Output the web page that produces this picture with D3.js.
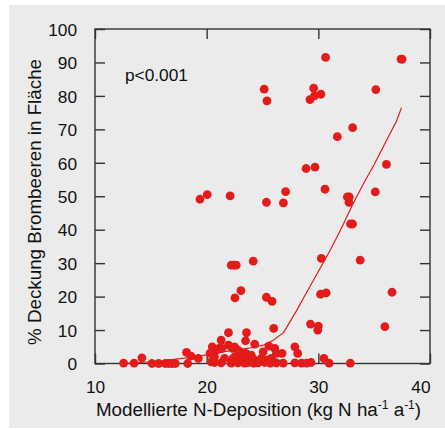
<!DOCTYPE html>
<html><head><meta charset="utf-8">
<script src="https://cdn.jsdelivr.net/npm/d3@7"></script>
<style>
html,body{margin:0;padding:0;background:#fff;}
text{font-family:"Liberation Sans",Arial,sans-serif;fill:#111;}
</style></head>
<body><svg id="c" width="445" height="430"></svg>
<script>
// Data
const depX = [19.4,20.05,22.1,25.15,25.4,25.35,26.87,27.07,28.9,29.7,29.25,29.58,29.65,30.23,30.65,30.6,31.7,33.07,32.6,32.77,32.74,35.15,35.1,36.1,37.4,37.5,
  32.88,33.07,33.75,36.6,35.96,30.27,30.2,30.7,29.3,30.0,29.95,30.5,30.96,32.86,
  22.2,22.45,22.65,24.17,23.07,22.53,25.35,25.86,26.0,21.95,23.57,
  23.48,21.3,21.95,24.3,25.57,25.06,26.1,26.25,26.75,27.9,28.15,27.9,28.5,28.95,29.35,
  18.2,18.6,19.25,14.2,12.56,13.5,15.1,15.7,16.3,16.6,16.9,17.2,18.3,
  20.5,20.3,20.8,21.1,21.35,22.5,22.8,22.3,
  20.4,20.7,21.3,22.2,22.8,23.4,23.7,24.2,24.6,25.2,25.7,26.25,26.85,
  20.7,21.6,22.5,22.9,23.3,23.7,24.2,24.9,25.35,25.8,23.0,23.5,24.0,22.3];
const coverY = [49.1,50.5,50.1,82.0,78.5,48.2,48.0,51.4,58.3,58.7,78.9,82.3,80.0,80.5,91.5,52.1,67.8,70.5,49.8,49.8,48.2,81.9,51.3,59.5,91.0,91.0,
  41.7,41.7,30.9,21.3,11.0,31.4,20.7,21.1,11.8,11.2,10.0,1.5,0.1,0.1,
  29.4,29.4,29.4,30.6,21.8,19.6,19.8,18.6,10.5,9.2,9.2,
  6.8,7.0,5.5,5.8,5.2,3.5,4.5,3.0,3.0,5.0,3.0,0.2,0.1,0.1,0.3,
  3.3,2.2,1.5,1.7,0.1,0.1,0,0,0,0,0,0,0,
  5.0,3.0,3.8,4.5,4.5,5.0,4.0,4.5,
  0.5,0.3,0.2,0.1,0.2,0.1,0.3,0.1,0.2,0.3,0.1,0.2,0.1,
  2.0,1.5,2.0,1.5,2.5,1.8,1.2,1.5,1.0,1.5,3.5,3.0,2.5,1.3];
const fitX = [12.56,14,16,18,20,22,24,25,26,26.9,28,29,30,31,32,33,34,35,36,37,37.45];
const fitY = [0,0.3,0.8,1.6,2.6,3.8,4.7,5.4,7.0,9.3,15.5,21.5,27.5,33.5,40,47,53.5,59.5,66,72.5,76.5];
const xTicks = [10,20,30,40];
const yTicks = [0,10,20,30,40,50,60,70,80,90,100];

const svg = d3.select("#c");
const red = "#e31b1b";
svg.append("rect").attr("x",9).attr("y",5).attr("width",436).attr("height",423).attr("fill","#ebebeb");

const x = d3.scaleLinear().domain([10,40]).range([95,430]);
const y = d3.scaleLinear().domain([0,100]).range([363.5,29]);

const frameColor = "#333";
svg.append("rect").attr("x",x(10)).attr("y",y(100)).attr("width",x(40)-x(10)).attr("height",y(0)-y(100))
  .attr("fill","none").attr("stroke",frameColor).attr("stroke-width",1.4);

const fs = 17.3;
const gL = svg.append("g").attr("transform",`translate(${x(10)},0)`)
  .call(d3.axisLeft(y).tickValues(yTicks).tickSizeInner(-10).tickSizeOuter(0).tickPadding(18));
const gR = svg.append("g").attr("transform",`translate(${x(40)},0)`)
  .call(d3.axisRight(y).tickValues(yTicks).tickSizeInner(-10).tickSizeOuter(0).tickFormat(""));
const gB = svg.append("g").attr("transform",`translate(0,${y(0)})`)
  .call(d3.axisBottom(x).tickValues(xTicks).tickSizeInner(-10).tickSizeOuter(0).tickPadding(17));
const gT = svg.append("g").attr("transform",`translate(0,${y(100)})`)
  .call(d3.axisTop(x).tickValues(xTicks).tickSizeInner(-10).tickSizeOuter(0).tickFormat(""));
[gL,gR,gB,gT].forEach(g=>{
  g.select(".domain").remove();
  g.selectAll(".tick line").attr("stroke",frameColor).attr("stroke-width",1.4);
  g.selectAll("text").attr("font-size",fs).attr("font-family","Liberation Sans, Arial, sans-serif").attr("fill","#111");
});
gL.selectAll("text").attr("dy","0.36em");
gB.selectAll(".tick").filter(d=>d===40).select("text").attr("text-anchor","end").attr("x",0);

svg.append("g").selectAll("circle").data(depX.map((d,i)=>[d,coverY[i]])).join("circle")
  .attr("cx",d=>x(d[0])).attr("cy",d=>y(d[1])).attr("r",4.4).attr("fill",red);

svg.append("path").datum(fitX.map((d,i)=>[d,fitY[i]]))
  .attr("d",d3.line().x(d=>x(d[0])).y(d=>y(d[1])))
  .attr("fill","none").attr("stroke",red).attr("stroke-width",1.2);

svg.append("text").attr("x",125).attr("y",81).attr("font-size",fs).text("p<0.001");

const tfs = 18.8;
const xt = svg.append("text").attr("x",258.5).attr("y",416).attr("text-anchor","middle").attr("font-size",tfs);
xt.append("tspan").text("Modellierte N-Deposition (kg N ha");
xt.append("tspan").attr("font-size",12).attr("dy",-7).text("-1");
xt.append("tspan").attr("dy",7).text(" a");
xt.append("tspan").attr("font-size",12).attr("dy",-7).text("-1");
xt.append("tspan").attr("dy",7).text(")");

svg.append("text").attr("transform","translate(41,202) rotate(-90)").attr("text-anchor","middle")
  .attr("font-size",tfs).text("% Deckung Brombeeren in Fläche");
</script></body></html>
